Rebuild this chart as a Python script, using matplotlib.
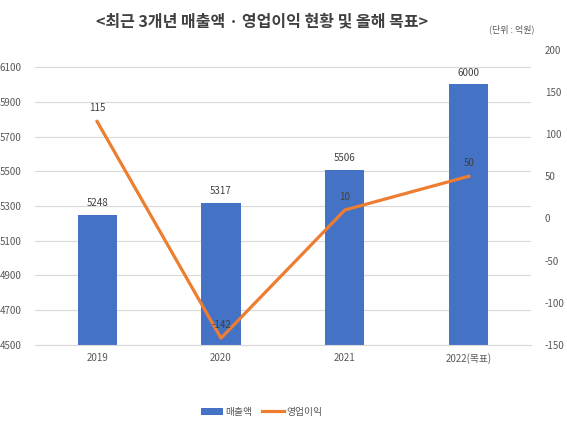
import matplotlib
matplotlib.use("Agg")
import matplotlib.pyplot as plt
from matplotlib.lines import Line2D
from matplotlib.patches import Patch

plt.rcParams['font.family'] = ['Noto Sans CJK KR', 'DejaVu Sans']
plt.rcParams['axes.unicode_minus'] = False

categories = ['2019', '2020', '2021', '2022(목표)']
sales = [5248, 5317, 5506, 6000]
op_profit = [115, -142, 10, 50]
left_ticks = [4500, 4700, 4900, 5100, 5300, 5500, 5700, 5900, 6100]
right_ticks = [-150, -100, -50, 0, 50, 100, 150, 200]

bar_color = '#4472C4'
line_color = '#ED7D31'
tick_color = '#595959'

fig = plt.figure(figsize=(5.67, 4.29), dpi=100)
ax = fig.add_axes([0.062, 0.196, 0.874, 0.688])
x = list(range(len(categories)))
bars = ax.bar(x, sales, width=0.315, color=bar_color, zorder=2)
ax.set_ylim(4500, 6200)
ax.set_xlim(-0.5, len(categories) - 0.5)
ax.set_yticks(left_ticks)
ax.set_xticks(x)
ax.set_xticklabels(categories)
ax.grid(axis='y', color='#D9D9D9', linewidth=0.8, zorder=0)
for s in ax.spines.values():
    s.set_visible(False)
ax.spines['bottom'].set_visible(True)
ax.spines['bottom'].set_color('#D9D9D9')
ax.tick_params(axis='both', length=0, labelsize=7, colors=tick_color)
ax.tick_params(axis='x', pad=6)
ax.tick_params(axis='y', pad=10)
for xi, v in zip(x, sales):
    ax.annotate(str(v), (xi, v), xytext=(0, 5), textcoords='offset points',
                ha='center', va='bottom', fontsize=7, color='#404040')

ax2 = ax.twinx()
ax2.plot(x, op_profit, color=line_color, linewidth=2.3, zorder=3)
ax2.set_ylim(-150, 200)
ax2.set_yticks(right_ticks)
for s in ax2.spines.values():
    s.set_visible(False)
ax2.tick_params(axis='y', length=0, labelsize=7, colors=tick_color, pad=10)
for xi, v in zip(x, op_profit):
    ax2.annotate(str(v), (xi, v), xytext=(0, 6), textcoords='offset points',
                 ha='center', va='bottom', fontsize=7, color='#404040')

fig.text(0.462, 0.951, '<최근 3개년 매출액 · 영업이익 현황 및 올해 목표>', ha='center', va='center',
         fontsize=11.5, fontweight='bold', color='#404040')
fig.text(0.903, 0.932, '(단위 : 억원)', ha='center', va='center', fontsize=6.5, color=tick_color)

handles = [Patch(facecolor=bar_color, edgecolor='none'),
           Line2D([0], [0], color=line_color, linewidth=2.3)]
fig.legend(handles, ['매출액', '영업이익'], loc='center', bbox_to_anchor=(0.462, 0.04),
           ncol=2, frameon=False, fontsize=7, handlelength=2.2, handletextpad=0.3,
           columnspacing=1.0, labelcolor=tick_color)

fig.savefig('out.png', dpi=100)
